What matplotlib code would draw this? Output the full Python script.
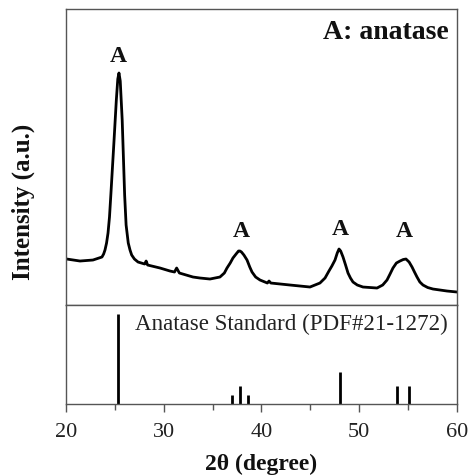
import numpy as np
import matplotlib
matplotlib.use('Agg')
import matplotlib.pyplot as plt
from matplotlib.ticker import MultipleLocator

plt.rcParams['font.family'] = ['Liberation Serif', 'DejaVu Serif']

# measured XRD pattern (2theta, intensity a.u.)
two_theta = [20.07, 21.43, 22.76, 23.68, 23.85, 23.99, 24.15, 24.30, 24.45, 24.60,
             24.90, 25.15, 25.30, 25.42, 25.55, 25.75, 26.00, 26.15, 26.37, 26.55,
             26.72, 27.00, 27.37, 28.05, 28.20, 28.35, 29.62, 30.64, 31.10, 31.32,
             31.60, 32.99, 33.71, 34.73, 35.75, 36.20, 36.47, 36.80, 37.08, 37.40,
             37.65, 37.80, 37.95, 38.20, 38.52, 38.80, 39.03, 39.40, 39.85, 40.60,
             40.77, 40.95, 42.92, 44.96, 45.98, 46.50, 46.90, 47.20, 47.52, 47.75,
             47.93, 48.10, 48.34, 48.60, 48.85, 49.10, 49.36, 49.80, 50.38, 51.82,
             52.40, 52.84, 53.15, 53.45, 53.80, 54.17, 54.50, 54.78, 55.10, 55.40,
             55.65, 55.91, 56.20, 56.52, 57.00, 57.54, 58.98, 60.00]
intensity = [46, 44, 45, 48, 51, 55, 62, 72, 88, 112,
             162, 205, 226, 232, 224, 185, 110, 80, 62, 55,
             50, 46, 43, 41, 44, 40, 37, 34, 33, 37,
             32, 28, 27, 26, 28, 32, 37, 42, 47, 51,
             54, 54, 53, 50, 45, 38, 33, 28, 25, 22,
             24, 22, 20, 18, 22, 27, 34, 39, 45, 52,
             56, 54, 48, 40, 32, 27, 23, 20, 18, 17,
             20, 25, 31, 37, 42, 44, 45.5, 46, 43, 38,
             33, 28, 23, 20, 17.5, 16, 14, 13]

# anatase reference lines PDF#21-1272
std_pos = [25.28, 36.95, 37.80, 38.58, 48.05, 53.89, 55.06]
std_int = [100, 10, 20, 10, 35, 20, 20]

peak_labels = [(25.3, 249), (37.9, 74), (48.1, 76), (54.6, 74)]

fig = plt.figure(figsize=(4.68, 4.76), dpi=100)
ax1 = fig.add_axes([0.141, 0.3592, 0.8355, 0.6219])
ax2 = fig.add_axes([0.141, 0.1513, 0.8355, 0.2079], sharex=ax1)

spine_col = '#555555'
for ax in (ax1, ax2):
    for s in ax.spines.values():
        s.set_color(spine_col)
        s.set_linewidth(1.0)

ax1.plot(two_theta, intensity, color='black', lw=2.0)
ax1.set_xlim(20, 60)
ax1.set_ylim(0, 296)
ax1.set_yticks([])
ax1.tick_params(axis='x', which='both', bottom=False, labelbottom=False)
ax1.text(-0.11, 0.35, 'Intensity (a.u.)', transform=ax1.transAxes, rotation=90,
         ha='center', va='center', fontsize=18, fontweight='bold', color='#111111')

for x, y in peak_labels:
    ax1.text(x, y, 'A', ha='center', va='center', fontsize=17, fontweight='bold', color='#111111')
ax1.text(0.98, 0.92, 'A: anatase', transform=ax1.transAxes, ha='right', va='center',
         fontsize=20, fontweight='bold', color='#111111')

ax2.vlines(std_pos, 0, std_int, color='black', lw=2.0)
ax2.set_ylim(0, 110)
ax2.set_yticks([])
ax2.xaxis.set_major_locator(MultipleLocator(10))
ax2.xaxis.set_minor_locator(MultipleLocator(5))
ax2.tick_params(axis='x', which='major', direction='out', length=6, width=1.0,
                color=spine_col, labelsize=16, labelcolor='#222222', pad=8)
ax2.tick_params(axis='x', which='minor', direction='out', length=4, width=1.0,
                color=spine_col)
ax2.text(0.977, 0.80, 'Anatase Standard (PDF#21-1272)', transform=ax2.transAxes,
         ha='right', va='center', fontsize=16.6, color='#222222')
ax2.set_xlabel('2θ (degree)', fontsize=17, fontweight='bold', color='#111111', labelpad=8)

fig.savefig('out.png', dpi=100)
